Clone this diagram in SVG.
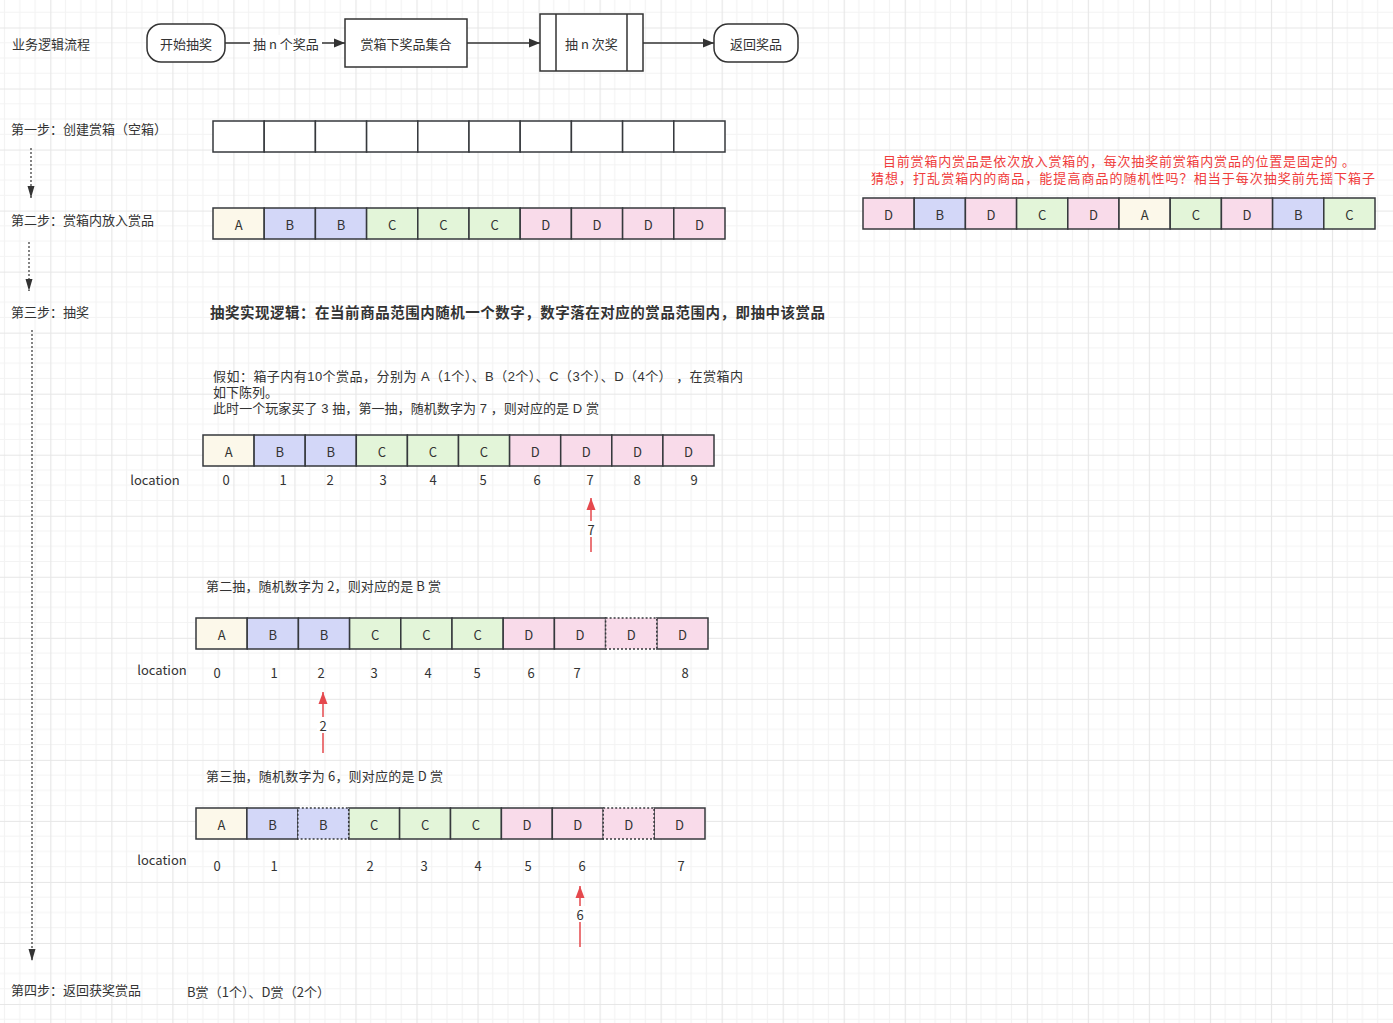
<svg xmlns="http://www.w3.org/2000/svg" width="1393" height="1023" viewBox="0 0 1393 1023">
<defs>
<pattern id="grid" x="50.3" y="27.5" width="61.03" height="61.03" patternUnits="userSpaceOnUse">
<path d="M15.26,0V61.03M30.52,0V61.03M45.77,0V61.03M0,15.26H61.03M0,30.52H61.03M0,45.77H61.03" stroke="#f3f3f3" stroke-width="1.2" fill="none"/>
<path d="M0.5,0V61.03M0,0.5H61.03" stroke="#e6e6e6" stroke-width="1.2" fill="none"/>
</pattern>
<marker id="ab" viewBox="0 0 11 10" refX="11" refY="5" markerWidth="11" markerHeight="10" markerUnits="userSpaceOnUse" orient="auto">
<path d="M0,0.5 L11,5 L0,9.5 z" fill="#333"/>
</marker>
<marker id="ad" viewBox="0 0 12 8" refX="12" refY="4" markerWidth="12" markerHeight="8" markerUnits="userSpaceOnUse" orient="auto">
<path d="M0,0.5 L12,4 L0,7.5 z" fill="#333"/>
</marker>
<marker id="ar" viewBox="0 0 12 10" refX="12" refY="5" markerWidth="12" markerHeight="10" markerUnits="userSpaceOnUse" orient="auto">
<path d="M0,0.5 L12,5 L0,9.5 z" fill="#e5484d"/>
</marker>
</defs>
<style>
.t{font-family:"Noto Sans CJK SC","Noto Sans",sans-serif;font-size:13px;fill:#333;dominant-baseline:central}
.p{font-family:"Liberation Sans","Noto Sans CJK SC",sans-serif;font-size:13px;fill:#333}
.m{text-anchor:middle}
.bold{font-weight:bold;font-size:14.5px}
.red{fill:#f03c3c}
.box{stroke:#333;stroke-width:1.5;fill:#fff}
.cell{stroke:#36393d;stroke-width:1.5}
.dot{stroke-dasharray:2 2}
.a{fill:#fcf8ea}.b{fill:#d3d7f8}.c{fill:#e3f5d9}.d{fill:#f9dbea}.e{fill:#fff}
.conn{stroke:#333;stroke-width:1.5;fill:none}
.dash{stroke:#333;stroke-width:1.2;fill:none;stroke-dasharray:2 2}
.rl{stroke:#e5484d;stroke-width:1.5;fill:none}
</style>
<rect width="1393" height="1023" fill="#fff"/>
<rect width="1393" height="1023" fill="url(#grid)"/>

<g id="labels">
<text class="t" x="12" y="43">业务逻辑流程</text>
<text class="t" x="11" y="128">第一步：创建赏箱（空箱）</text>
<text class="t" x="11" y="219">第二步：赏箱内放入赏品</text>
<text class="t" x="11" y="311">第三步：抽奖</text>
<text class="t" x="11" y="989">第四步：返回获奖赏品</text>
<text class="t bold" x="210" y="311" textLength="615" lengthAdjust="spacing">抽奖实现逻辑：在当前商品范围内随机一个数字，数字落在对应的赏品范围内，即抽中该赏品</text>
<text class="p" x="213" y="380.5" textLength="530" lengthAdjust="spacing">假如：箱子内有10个赏品，分别为 A（1个）、B（2个）、C（3个）、D（4个） ，在赏箱内</text>
<text class="p" x="213" y="396.5">如下陈列。</text>
<text class="p" x="213" y="412.5" textLength="386" lengthAdjust="spacing">此时一个玩家买了 3 抽，第一抽，随机数字为 7 ，则对应的是 D 赏</text>
<text class="t" x="206" y="585" textLength="235" lengthAdjust="spacing">第二抽，随机数字为 2，则对应的是 B 赏</text>
<text class="t" x="206" y="775" textLength="237" lengthAdjust="spacing">第三抽，随机数字为 6，则对应的是 D 赏</text>
<text class="t" x="187" y="991" textLength="143" lengthAdjust="spacing">B赏（1个）、D赏（2个）</text>
<text class="t red" x="883" y="160" textLength="472" lengthAdjust="spacing">目前赏箱内赏品是依次放入赏箱的，每次抽奖前赏箱内赏品的位置是固定的 。</text>
<text class="t red" x="871" y="177" textLength="504" lengthAdjust="spacing">猜想，打乱赏箱内的商品，能提高商品的随机性吗？相当于每次抽奖前先摇下箱子</text>
</g>

<g id="connectors">
<line class="conn" x1="225" y1="43" x2="345" y2="43" marker-end="url(#ab)"/>
<rect x="250" y="35" width="72" height="17" fill="#fff"/>
<text class="t m" x="286" y="43">抽 n 个奖品</text>
<line class="conn" x1="467" y1="43" x2="540" y2="43" marker-end="url(#ab)"/>
<line class="conn" x1="643" y1="43" x2="714" y2="43" marker-end="url(#ab)"/>
<line class="dash" x1="31" y1="148" x2="31" y2="198" marker-end="url(#ad)"/>
<line class="dash" x1="29" y1="242" x2="29" y2="291" marker-end="url(#ad)"/>
<line class="dash" x1="32" y1="330" x2="32" y2="961" marker-end="url(#ad)"/>
<line class="rl" x1="591" y1="552" x2="591" y2="498" marker-end="url(#ar)"/>
<rect x="585" y="521" width="12" height="16" fill="#fff"/>
<text class="t m" x="591" y="529">7</text>
<line class="rl" x1="323" y1="753" x2="323" y2="692" marker-end="url(#ar)"/>
<rect x="317" y="717" width="12" height="16" fill="#fff"/>
<text class="t m" x="323" y="725">2</text>
<line class="rl" x1="580" y1="947" x2="580" y2="886" marker-end="url(#ar)"/>
<rect x="574" y="906" width="12" height="16" fill="#fff"/>
<text class="t m" x="580" y="914">6</text>
</g>

<g id="start">
<rect class="box" x="147" y="24" width="78" height="38" rx="14"/>
<text class="t m" x="186" y="43">开始抽奖</text>
</g>
<g id="prizeset">
<rect class="box" x="345" y="19" width="122" height="48"/>
<text class="t m" x="406" y="43">赏箱下奖品集合</text>
</g>
<g id="drawn">
<rect class="box" x="540" y="14" width="103" height="57"/>
<line class="conn" x1="556" y1="14" x2="556" y2="71"/>
<line class="conn" x1="627" y1="14" x2="627" y2="71"/>
<text class="t m" x="591.5" y="43">抽 n 次奖</text>
</g>
<g id="return">
<rect class="box" x="714" y="24" width="84" height="38" rx="14"/>
<text class="t m" x="756" y="43">返回奖品</text>
</g>

<g id="row-empty">
<rect class="cell e" x="213" y="121" width="51.2" height="31"/>
<rect class="cell e" x="264.2" y="121" width="51.2" height="31"/>
<rect class="cell e" x="315.4" y="121" width="51.2" height="31"/>
<rect class="cell e" x="366.6" y="121" width="51.2" height="31"/>
<rect class="cell e" x="417.8" y="121" width="51.2" height="31"/>
<rect class="cell e" x="469" y="121" width="51.2" height="31"/>
<rect class="cell e" x="520.2" y="121" width="51.2" height="31"/>
<rect class="cell e" x="571.4" y="121" width="51.2" height="31"/>
<rect class="cell e" x="622.6" y="121" width="51.2" height="31"/>
<rect class="cell e" x="673.8" y="121" width="51.2" height="31"/>
</g>

<g id="row-filled">
<rect class="cell a" x="213" y="208" width="51.2" height="31"/>
<rect class="cell b" x="264.2" y="208" width="51.2" height="31"/>
<rect class="cell b" x="315.4" y="208" width="51.2" height="31"/>
<rect class="cell c" x="366.6" y="208" width="51.2" height="31"/>
<rect class="cell c" x="417.8" y="208" width="51.2" height="31"/>
<rect class="cell c" x="469" y="208" width="51.2" height="31"/>
<rect class="cell d" x="520.2" y="208" width="51.2" height="31"/>
<rect class="cell d" x="571.4" y="208" width="51.2" height="31"/>
<rect class="cell d" x="622.6" y="208" width="51.2" height="31"/>
<rect class="cell d" x="673.8" y="208" width="51.2" height="31"/>
<text class="t m" x="238.6" y="224">A</text>
<text class="t m" x="289.8" y="224">B</text>
<text class="t m" x="341" y="224">B</text>
<text class="t m" x="392.2" y="224">C</text>
<text class="t m" x="443.4" y="224">C</text>
<text class="t m" x="494.6" y="224">C</text>
<text class="t m" x="545.8" y="224">D</text>
<text class="t m" x="597" y="224">D</text>
<text class="t m" x="648.2" y="224">D</text>
<text class="t m" x="699.4" y="224">D</text>
</g>

<g id="row-shuffled">
<rect class="cell d" x="863" y="198" width="51.2" height="31"/>
<rect class="cell b" x="914.2" y="198" width="51.2" height="31"/>
<rect class="cell d" x="965.4" y="198" width="51.2" height="31"/>
<rect class="cell c" x="1016.6" y="198" width="51.2" height="31"/>
<rect class="cell d" x="1067.8" y="198" width="51.2" height="31"/>
<rect class="cell a" x="1119" y="198" width="51.2" height="31"/>
<rect class="cell c" x="1170.2" y="198" width="51.2" height="31"/>
<rect class="cell d" x="1221.4" y="198" width="51.2" height="31"/>
<rect class="cell b" x="1272.6" y="198" width="51.2" height="31"/>
<rect class="cell c" x="1323.8" y="198" width="51.2" height="31"/>
<text class="t m" x="888.6" y="214">D</text>
<text class="t m" x="939.8" y="214">B</text>
<text class="t m" x="991" y="214">D</text>
<text class="t m" x="1042.2" y="214">C</text>
<text class="t m" x="1093.4" y="214">D</text>
<text class="t m" x="1144.6" y="214">A</text>
<text class="t m" x="1195.8" y="214">C</text>
<text class="t m" x="1247" y="214">D</text>
<text class="t m" x="1298.2" y="214">B</text>
<text class="t m" x="1349.4" y="214">C</text>
</g>

<g id="row-draw1">
<rect class="cell a" x="203" y="435" width="51.1" height="31"/>
<rect class="cell b" x="254.1" y="435" width="51.1" height="31"/>
<rect class="cell b" x="305.2" y="435" width="51.1" height="31"/>
<rect class="cell c" x="356.3" y="435" width="51.1" height="31"/>
<rect class="cell c" x="407.4" y="435" width="51.1" height="31"/>
<rect class="cell c" x="458.5" y="435" width="51.1" height="31"/>
<rect class="cell d" x="509.6" y="435" width="51.1" height="31"/>
<rect class="cell d" x="560.7" y="435" width="51.1" height="31"/>
<rect class="cell d" x="611.8" y="435" width="51.1" height="31"/>
<rect class="cell d" x="662.9" y="435" width="51.1" height="31"/>
<text class="t m" x="228.6" y="451">A</text>
<text class="t m" x="279.7" y="451">B</text>
<text class="t m" x="330.8" y="451">B</text>
<text class="t m" x="381.9" y="451">C</text>
<text class="t m" x="433" y="451">C</text>
<text class="t m" x="484" y="451">C</text>
<text class="t m" x="535.2" y="451">D</text>
<text class="t m" x="586.3" y="451">D</text>
<text class="t m" x="637.4" y="451">D</text>
<text class="t m" x="688.5" y="451">D</text>
<text class="t m" x="155" y="479">location</text>
<text class="t m" x="226" y="479">0</text>
<text class="t m" x="283" y="479">1</text>
<text class="t m" x="330" y="479">2</text>
<text class="t m" x="383" y="479">3</text>
<text class="t m" x="433" y="479">4</text>
<text class="t m" x="483" y="479">5</text>
<text class="t m" x="537" y="479">6</text>
<text class="t m" x="590" y="479">7</text>
<text class="t m" x="637" y="479">8</text>
<text class="t m" x="694" y="479">9</text>
</g>

<g id="row-draw2">
<rect class="cell a" x="196" y="618" width="51.2" height="31"/>
<rect class="cell b" x="247.2" y="618" width="51.2" height="31"/>
<rect class="cell b" x="298.4" y="618" width="51.2" height="31"/>
<rect class="cell c" x="349.6" y="618" width="51.2" height="31"/>
<rect class="cell c" x="400.8" y="618" width="51.2" height="31"/>
<rect class="cell c" x="452" y="618" width="51.2" height="31"/>
<rect class="cell d" x="503.2" y="618" width="51.2" height="31"/>
<rect class="cell d" x="554.4" y="618" width="51.2" height="31"/>
<rect class="cell d" x="656.8" y="618" width="51.2" height="31"/>
<rect class="cell d dot" x="605.6" y="618" width="51.2" height="31"/>
<text class="t m" x="221.6" y="634">A</text>
<text class="t m" x="272.8" y="634">B</text>
<text class="t m" x="324" y="634">B</text>
<text class="t m" x="375.2" y="634">C</text>
<text class="t m" x="426.4" y="634">C</text>
<text class="t m" x="477.6" y="634">C</text>
<text class="t m" x="528.8" y="634">D</text>
<text class="t m" x="580" y="634">D</text>
<text class="t m" x="631.2" y="634">D</text>
<text class="t m" x="682.4" y="634">D</text>
<text class="t m" x="162" y="669">location</text>
<text class="t m" x="217" y="672">0</text>
<text class="t m" x="274" y="672">1</text>
<text class="t m" x="321" y="672">2</text>
<text class="t m" x="374" y="672">3</text>
<text class="t m" x="428" y="672">4</text>
<text class="t m" x="477" y="672">5</text>
<text class="t m" x="531" y="672">6</text>
<text class="t m" x="577" y="672">7</text>
<text class="t m" x="685" y="672">8</text>
</g>

<g id="row-draw3">
<rect class="cell a" x="196" y="808" width="50.9" height="31"/>
<rect class="cell b" x="246.9" y="808" width="50.9" height="31"/>
<rect class="cell c" x="348.7" y="808" width="50.9" height="31"/>
<rect class="cell c" x="399.6" y="808" width="50.9" height="31"/>
<rect class="cell c" x="450.5" y="808" width="50.9" height="31"/>
<rect class="cell d" x="501.4" y="808" width="50.9" height="31"/>
<rect class="cell d" x="552.3" y="808" width="50.9" height="31"/>
<rect class="cell d" x="654.1" y="808" width="50.9" height="31"/>
<rect class="cell b dot" x="297.8" y="808" width="50.9" height="31"/>
<rect class="cell d dot" x="603.2" y="808" width="50.9" height="31"/>
<text class="t m" x="221.5" y="824">A</text>
<text class="t m" x="272.4" y="824">B</text>
<text class="t m" x="323.3" y="824">B</text>
<text class="t m" x="374.2" y="824">C</text>
<text class="t m" x="425.1" y="824">C</text>
<text class="t m" x="476" y="824">C</text>
<text class="t m" x="526.9" y="824">D</text>
<text class="t m" x="577.8" y="824">D</text>
<text class="t m" x="628.7" y="824">D</text>
<text class="t m" x="679.6" y="824">D</text>
<text class="t m" x="162" y="859">location</text>
<text class="t m" x="217" y="865">0</text>
<text class="t m" x="274" y="865">1</text>
<text class="t m" x="370" y="865">2</text>
<text class="t m" x="424" y="865">3</text>
<text class="t m" x="478" y="865">4</text>
<text class="t m" x="528" y="865">5</text>
<text class="t m" x="582" y="865">6</text>
<text class="t m" x="681" y="865">7</text>
</g>
</svg>
